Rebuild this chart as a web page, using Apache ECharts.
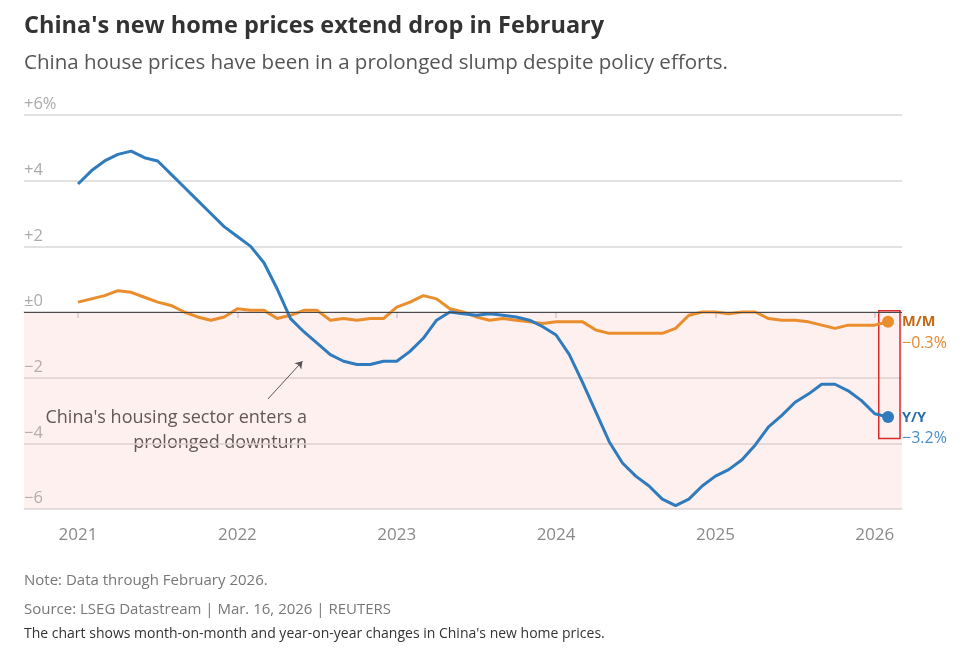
<!DOCTYPE html>
<html>
<head>
<meta charset="utf-8">
<script src="https://cdn.jsdelivr.net/npm/echarts@6/dist/echarts.min.js"></script>
<style>
html,body{margin:0;padding:0;background:#fff;}
#c{width:974px;height:657px;}
</style>
</head>
<body>
<div id="c"></div>
<script>
// Monthly data, Jan 2021 .. Feb 2026 (index 0 = Jan 2021)
const startYear = 2021;
const yearLabels = ['2021','2022','2023','2024','2025','2026'];
const yoy = [3.9,4.3,4.6,4.8,4.9,4.7,4.6,4.2,3.8,3.4,3.0,2.6,
             2.3,2.0,1.5,0.7,-0.2,-0.6,-0.95,-1.3,-1.5,-1.6,-1.6,-1.5,
             -1.5,-1.2,-0.8,-0.25,0.0,-0.05,-0.1,-0.05,-0.1,-0.15,-0.25,-0.45,
             -0.7,-1.3,-2.15,-3.05,-3.95,-4.6,-5.0,-5.3,-5.7,-5.9,-5.7,-5.3,
             -5.0,-4.8,-4.5,-4.05,-3.5,-3.15,-2.75,-2.5,-2.2,-2.2,-2.4,-2.7,
             -3.1,-3.2];
const mom = [0.3,0.4,0.5,0.65,0.6,0.45,0.3,0.2,0.0,-0.15,-0.25,-0.15,
             0.1,0.05,0.05,-0.2,-0.1,0.05,0.05,-0.25,-0.2,-0.25,-0.2,-0.2,
             0.15,0.3,0.5,0.4,0.1,0.0,-0.15,-0.25,-0.2,-0.25,-0.3,-0.35,
             -0.3,-0.3,-0.3,-0.55,-0.65,-0.65,-0.65,-0.65,-0.65,-0.5,-0.1,0.0,
             0.0,-0.05,0.0,0.0,-0.2,-0.25,-0.25,-0.3,-0.4,-0.5,-0.4,-0.4,
             -0.4,-0.3];
const yTickLabels = {'6':'+6%','4':'+4','2':'+2','0':'±0','-2':'−2','-4':'−4','-6':'−6'};
const seriesNames = ['Y/Y','M/M'];

const yearTicks = yearLabels.map((_, i) => i * 12);
const toPairs = arr => arr.map((v, i) => [i, v]);
const fmtPct = v => (v < 0 ? '−' : '+') + Math.abs(v).toFixed(1) + '%';

const FONT = '"Open Sans", "Noto Sans", sans-serif';
const BLUE = '#2f7bbd';
const ORANGE = '#ea8d2c';

const chart = echarts.init(document.getElementById('c'), null, {renderer: 'canvas'});

const lastIdx = yoy.length - 1;
const symSize = (v, p) => (p.dataIndex === lastIdx ? 12 : 0);

chart.setOption({
  animation: false,
  backgroundColor: '#fff',
  textStyle: {fontFamily: FONT},
  grid: {left: 24, right: 72, top: 115, bottom: 148, containLabel: false},
  xAxis: {
    type: 'value',
    min: -4.07,
    max: 62.05,
    splitLine: {show: false},
    axisLine: {show: true, lineStyle: {color: '#d4d4d4', width: 1.5}},
    axisTick: {show: true, customValues: yearTicks, length: 6, lineStyle: {color: '#cfcfcf', width: 1.5}},
    axisLabel: {
      customValues: yearTicks,
      formatter: v => String(startYear + Math.round(v / 12)),
      color: '#8a8a8a', fontSize: 17, margin: 18, fontFamily: FONT
    }
  },
  yAxis: {
    type: 'value',
    min: -6, max: 6, interval: 2,
    axisLine: {show: false},
    axisTick: {show: false},
    splitLine: {show: true, lineStyle: {color: '#d9d9d9', width: 1.5}},
    axisLabel: {
      inside: true,
      verticalAlign: 'bottom',
      align: 'left',
      margin: 0,
      padding: [0, 0, 2, 0],
      color: '#ababab', fontSize: 16.5, fontFamily: FONT,
      formatter: v => yTickLabels[String(v)] || ''
    }
  },
  series: [
    {
      name: seriesNames[1],
      type: 'line',
      data: toPairs(mom),
      z: 3,
      symbol: 'circle',
      symbolSize: symSize,
      itemStyle: {color: ORANGE},
      lineStyle: {color: ORANGE, width: 3},
      endLabel: {
        show: true,
        offset: [6, 11],
        formatter: p => '{a|' + p.seriesName + '}\n{b|' + fmtPct(p.value[1]) + '}',
        rich: {
          a: {color: '#c46a17', fontSize: 14.5, fontWeight: 'bold', fontFamily: FONT, lineHeight: 21},
          b: {color: '#e08a33', fontSize: 16, fontFamily: FONT, lineHeight: 21}
        }
      },
      markArea: {
        silent: true,
        itemStyle: {color: 'rgba(244,170,160,0.18)'},
        data: [[{yAxis: 0}, {yAxis: -6}]]
      },
      markLine: {
        silent: true,
        symbol: 'none',
        label: {show: false},
        lineStyle: {color: '#4a4a4a', width: 1, type: 'solid'},
        data: [{yAxis: 0}]
      }
    },
    {
      name: seriesNames[0],
      type: 'line',
      data: toPairs(yoy),
      z: 4,
      symbol: 'circle',
      symbolSize: symSize,
      itemStyle: {color: BLUE},
      lineStyle: {color: BLUE, width: 3},
      endLabel: {
        show: true,
        offset: [6, 11],
        formatter: p => '{a|' + p.seriesName + '}\n{b|' + fmtPct(p.value[1]) + '}',
        rich: {
          a: {color: '#2b6eab', fontSize: 14.5, fontWeight: 'bold', fontFamily: FONT, lineHeight: 21},
          b: {color: '#4a8ccb', fontSize: 16, fontFamily: FONT, lineHeight: 21}
        }
      },
      markArea: {
        silent: true,
        itemStyle: {color: 'rgba(0,0,0,0)', borderColor: '#d92b2b', borderWidth: 1.5},
        data: [[{xAxis: 60.3, yAxis: 0.04}, {xAxis: 61.9, yAxis: -3.85}]]
      },
      markLine: {
        silent: true,
        symbol: ['none', 'arrow'],
        symbolSize: 7,
        label: {show: false},
        lineStyle: {color: '#555', width: 1, type: 'solid', curveness: 0.08},
        data: [[{coord: [14.3, -2.65]}, {coord: [16.9, -1.5]}]]
      }
    }
  ],
  graphic: [
    {type: 'text', left: 24, top: 14, style: {text: "China's new home prices extend drop in February", font: 'bold 23.5px ' + FONT, fill: '#333'}},
    {type: 'text', left: 24, top: 53, style: {text: 'China house prices have been in a prolonged slump despite policy efforts.', font: '20.5px ' + FONT, fill: '#555'}},
    {type: 'text', x: 307, y: 405, style: {text: "China's housing sector enters a\nprolonged downturn", font: '18px ' + FONT, fill: '#444', align: 'right', lineHeight: 25, stroke: '#fff', lineWidth: 4}},
    {type: 'text', left: 24, top: 573, style: {text: 'Note: Data through February 2026.', font: '15px ' + FONT, fill: '#777'}},
    {type: 'text', left: 24, top: 602, style: {text: 'Source: LSEG Datastream | Mar. 16, 2026 | REUTERS', font: '15px ' + FONT, fill: '#777'}},
    {type: 'text', left: 24, top: 627, style: {text: "The chart shows month-on-month and year-on-year changes in China's new home prices.", font: '14px ' + FONT, fill: '#333'}}
  ]
});
</script>
</body>
</html>
